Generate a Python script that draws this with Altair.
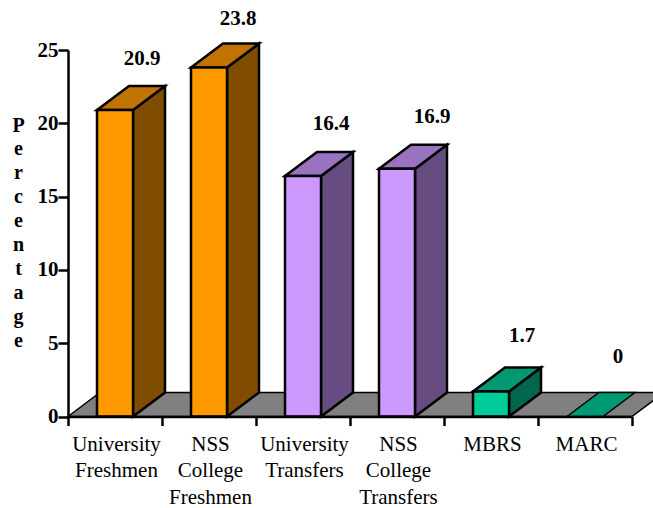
import altair as alt
import pandas as pd

# Enrolment shares by programme
categories = [
    "University\nFreshmen",
    "NSS\nCollege\nFreshmen",
    "University\nTransfers",
    "NSS\nCollege\nTransfers",
    "MBRS",
    "MARC",
]
values = [20.9, 23.8, 16.4, 16.9, 1.7, 0]
families = ["orange", "orange", "purple", "purple", "green", "green"]

# Fake-3D projection, in data units: bar width and the shear of the depth edges
BAR_W = 36 / 94
DEPTH_X = 32 / 94
DEPTH_Y = 24 / 14.66

PLOT_W, PLOT_H = 564, 366.5
SERIF = "Liberation Serif"

face_names = [
    "floor",
    "orange-front", "orange-side", "orange-top",
    "purple-front", "purple-side", "purple-top",
    "green-front", "green-side", "green-top",
]
face_colors = [
    "#808080",
    "#FF9900", "#804D00", "#C07300",
    "#CC99FF", "#664C80", "#9973BF",
    "#00CC99", "#00664C", "#009973",
]

# Label nudges (dx, dy) relative to the back top corner of each bar
label_nudges = [(11, -27), (13, -25), (12, -28), (19, -28), (15, -32), (17, -36)]

x_scale = alt.Scale(domain=[0, 6], nice=False, zero=False)
y_scale = alt.Scale(domain=[0, 25], nice=False)
color = alt.Color(
    "face:N", scale=alt.Scale(domain=face_names, range=face_colors), legend=None
)

x_axis = alt.Axis(
    values=list(range(7)),
    labels=False,
    title=None,
    grid=False,
    tickSize=9,
    tickWidth=2.5,
    tickColor="black",
    domainWidth=2.5,
    domainColor="black",
    zindex=1,
)
y_axis = alt.Axis(
    values=[0, 5, 10, 15, 20, 25],
    title=list("Percentage"),
    titleAngle=0,
    titleFont=SERIF,
    titleFontSize=20,
    titleFontWeight="bold",
    titleColor="black",
    titleLineHeight=23.9,
    titleAlign="center",
    titleBaseline="top",
    titleX=-50,
    titleY=65,
    labelFont=SERIF,
    labelFontSize=21,
    labelFontWeight="bold",
    labelColor="black",
    labelPadding=0,
    grid=False,
    tickSize=10,
    tickWidth=2.5,
    tickColor="black",
    domainWidth=2.5,
    domainColor="black",
    zindex=1,
)
x_enc = alt.X("x:Q", scale=x_scale, axis=x_axis)


def polygon_rows(group, face, points):
    return [
        {"group": group, "face": face, "x": px, "top": hi, "bottom": lo}
        for px, hi, lo in points
    ]


floor_rows = polygon_rows("floor", "floor", [
    (0, 0, 0),
    (DEPTH_X, DEPTH_Y, 0),
    (6, DEPTH_Y, 0),
    (6 + DEPTH_X, DEPTH_Y, DEPTH_Y),
])

front_rows, side_rows, top_rows, flat_rows = [], [], [], []
for i, (v, fam) in enumerate(zip(values, families)):
    left = i + 0.5 - BAR_W / 2
    right = left + BAR_W
    face_top = polygon_rows(f"top{i}", f"{fam}-top", [
        (left, v, v),
        (left + DEPTH_X, v + DEPTH_Y, v),
        (right, v + DEPTH_Y, v),
        (right + DEPTH_X, v + DEPTH_Y, v + DEPTH_Y),
    ])
    if v > 0:
        top_rows += face_top
        side_rows += polygon_rows(f"side{i}", f"{fam}-side", [
            (right, v, 0),
            (right + DEPTH_X, v + DEPTH_Y, DEPTH_Y),
        ])
        front_rows.append(
            {"face": f"{fam}-front", "x": left, "x2": right, "top": v, "bottom": 0}
        )
    else:
        flat_rows += face_top


def polygon_layer(rows, stroke_width):
    return (
        alt.Chart(pd.DataFrame(rows))
        .mark_area(
            orient="vertical",
            stroke="black",
            strokeWidth=stroke_width,
            strokeJoin="miter",
            interpolate="linear",
            opacity=1,
        )
        .encode(
            x=x_enc,
            y=alt.Y("top:Q", scale=y_scale, axis=y_axis, stack=None),
            y2="bottom:Q",
            color=color,
            detail="group:N",
        )
    )


fronts = (
    alt.Chart(pd.DataFrame(front_rows))
    .mark_rect(stroke="black", strokeWidth=2.5, strokeJoin="miter", opacity=1)
    .encode(
        x=x_enc,
        x2="x2:Q",
        y=alt.Y("top:Q", scale=y_scale, axis=y_axis),
        y2="bottom:Q",
        color=color,
    )
)

# Value labels above each bar
value_labels = []
for i, (v, (ndx, ndy)) in enumerate(zip(values, label_nudges)):
    row = {
        "x": i + 0.5 - BAR_W / 2 + (BAR_W + DEPTH_X) / 2,
        "y": v + DEPTH_Y,
        "label": f"{v:g}",
    }
    value_labels.append(
        alt.Chart(pd.DataFrame([row]))
        .mark_text(
            font=SERIF,
            fontSize=21,
            fontWeight="bold",
            color="black",
            dx=ndx,
            dy=ndy,
            baseline="middle",
            align="center",
        )
        .encode(
            x=x_enc,
            y=alt.Y("y:Q", scale=y_scale, axis=y_axis),
            text="label:N",
        )
    )

# Category names under the axis, possibly on several lines
category_labels = (
    alt.Chart(
        pd.DataFrame(
            {"x": [i + 0.5 for i in range(len(categories))], "label": categories}
        )
    )
    .mark_text(
        font=SERIF,
        fontSize=21,
        color="black",
        baseline="top",
        align="center",
        lineBreak="\n",
        lineHeight=26.5,
        dx=1.5,
    )
    .encode(
        x=x_enc,
        y=alt.value(PLOT_H + 17),
        text="label:N",
    )
)

chart = (
    alt.layer(
        polygon_layer(floor_rows, 1.5),
        polygon_layer(side_rows, 2.5),
        polygon_layer(top_rows, 2.5),
        polygon_layer(flat_rows, 1.5),
        fronts,
        *value_labels,
        category_labels,
    )
    .properties(
        width=PLOT_W,
        height=PLOT_H,
        padding={"left": 68, "top": 50, "right": 21, "bottom": 91.5},
        autosize=alt.AutoSizeParams(type="none"),
        background="white",
    )
    .configure_view(stroke=None)
)

chart.save("out.html", embed_options={"renderer": "svg", "actions": False})
